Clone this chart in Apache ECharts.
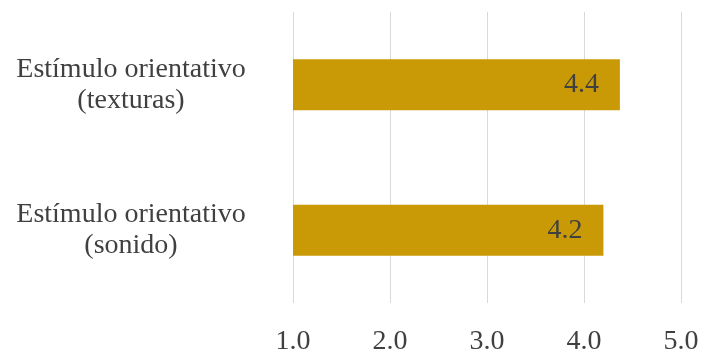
<!DOCTYPE html>
<html>
<head>
<meta charset="utf-8">
<script src="https://cdn.jsdelivr.net/npm/echarts@6/dist/echarts.min.js"></script>
<style>
  html, body { margin: 0; padding: 0; background: #fff; }
  #main { width: 718px; height: 358px; }
</style>
</head>
<body>
<div id="main"></div>
<script>
// categories (bottom to top, as ECharts draws a category y axis)
const categories = ["Estímulo orientativo\n(sonido)", "Estímulo orientativo\n(texturas)"];
const values = [4.2, 4.37];
const ticks = [1, 2, 3, 4, 5];

const myChart = echarts.init(document.querySelector("#main"));
const font = "Liberation Serif";

const option = {
  backgroundColor: "#fff",
  grid: {
    left: 293,
    right: 37,
    top: 12,
    bottom: 55,
  },
  xAxis: {
    type: "value",
    min: ticks[0],
    max: ticks[ticks.length - 1],
    interval: 1,
    axisLine: { show: false },
    axisTick: { show: false },
    axisLabel: {
      margin: 25,
      fontFamily: font,
      fontSize: 28,
      color: "#404040",
      formatter: (v) => v.toFixed(1),
    },
    splitLine: {
      lineStyle: { color: "#d9d9d9", width: 1 },
    },
  },
  yAxis: {
    type: "category",
    data: categories,
    axisLine: { show: false },
    axisTick: { show: false },
    axisLabel: {
      margin: 162,
      align: "center",
      fontFamily: font,
      fontSize: 28,
      lineHeight: 31,
      color: "#404040",
    },
  },
  series: [
    {
      type: "bar",
      data: values,
      barWidth: 51,
      itemStyle: { color: "#C99A06" },
      label: {
        show: true,
        position: "insideRight",
        distance: 21,
        fontFamily: font,
        fontSize: 28,
        color: "#404040",
        formatter: (p) => p.value.toFixed(1),
      },
    },
  ],
};
myChart.setOption(option);
</script>
</body>
</html>
